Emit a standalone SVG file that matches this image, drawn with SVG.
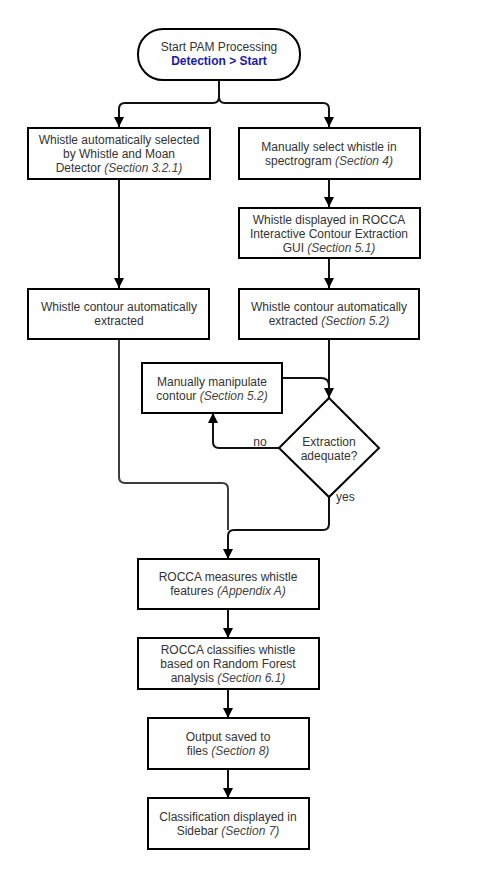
<svg xmlns="http://www.w3.org/2000/svg" width="485" height="869" viewBox="0 0 485 869">
<style>
text{font-family:"Liberation Sans",Arial,sans-serif;font-size:12px;fill:#333;text-anchor:middle}
.i{font-style:italic;fill:#444}
.b{font-weight:bold;fill:#1a1aa8}
.box{fill:#fff;stroke:#000;stroke-width:2}
.c{fill:none;stroke:#111;stroke-width:2}
.g{fill:none;stroke:#3c3c3c;stroke-width:2}
.l{text-anchor:start}
</style>
<defs>
<marker id="a" markerUnits="userSpaceOnUse" markerWidth="12" markerHeight="10" refX="10" refY="5" orient="auto">
<path d="M0,0 L10,5 L0,10 Z" fill="#000"/>
</marker>
</defs>
<rect width="485" height="869" fill="#fff"/>
<g id="connectors">
<path class="c" d="M219,80 V97 Q219,103 213,103 H125 Q119,103 119,109 V127" marker-end="url(#a)"/>
<path class="c" d="M219,80 V97 Q219,103 225,103 H323 Q329,103 329,109 V127" marker-end="url(#a)"/>
<path class="c" d="M119,179 V288" marker-end="url(#a)"/>
<path class="c" d="M329,179 V207" marker-end="url(#a)"/>
<path class="c" d="M329,258 V288" marker-end="url(#a)"/>
<path class="c" d="M329,339 V398" marker-end="url(#a)"/>
<path class="c" d="M282,378 H321 Q329,378 329,386 V392"/>
<path class="c" d="M279,448 H219 Q213,448 213,442 V413" marker-end="url(#a)"/>
<path class="c" d="M329,497 V524 Q329,530 323,530 H234 Q228,530 228,536 V559" marker-end="url(#a)"/>
<path class="g" d="M119,339 V477 Q119,483 125,483 H222 Q228,483 228,489 V530"/>
<path class="c" d="M228,609 V638" marker-end="url(#a)"/>
<path class="c" d="M228,689 V718" marker-end="url(#a)"/>
<path class="c" d="M228,769 V798" marker-end="url(#a)"/>
<text x="260" y="446">no</text>
<text class="l" x="336" y="501">yes</text>
</g>
<g id="start">
<rect class="box" x="138" y="29" width="162" height="51" rx="25" ry="25"/>
<text x="219" y="51">Start PAM Processing</text>
<text class="b" x="219" y="65">Detection &gt; Start</text>
</g>
<g id="auto-select">
<rect class="box" x="28" y="128" width="182" height="51"/>
<text x="119" y="144">Whistle automatically selected</text>
<text x="119" y="158">by Whistle and Moan</text>
<text x="119" y="172">Detector <tspan class="i">(Section 3.2.1)</tspan></text>
</g>
<g id="manual-select">
<rect class="box" x="239" y="128" width="181" height="51"/>
<text x="329" y="151">Manually select whistle in</text>
<text x="329" y="165">spectrogram  <tspan class="i">(Section 4)</tspan></text>
</g>
<g id="rocca-gui">
<rect class="box" x="239" y="208" width="181" height="50"/>
<text x="329" y="224">Whistle displayed in ROCCA</text>
<text x="329" y="238">Interactive Contour Extraction</text>
<text x="329" y="252">GUI  <tspan class="i">(Section 5.1)</tspan></text>
</g>
<g id="auto-extract-left">
<rect class="box" x="28" y="289" width="181" height="50"/>
<text x="119" y="311">Whistle contour automatically</text>
<text x="119" y="325">extracted</text>
</g>
<g id="auto-extract-right">
<rect class="box" x="239" y="289" width="180" height="50"/>
<text x="329" y="311">Whistle contour automatically</text>
<text x="329" y="325">extracted <tspan class="i">(Section 5.2)</tspan></text>
</g>
<g id="manual-manipulate">
<rect class="box" x="142" y="363" width="140" height="50"/>
<text x="212" y="386">Manually manipulate</text>
<text x="212" y="400">contour <tspan class="i">(Section 5.2)</tspan></text>
</g>
<g id="decision">
<polygon class="box" points="329,398 379,448 329,497 279,448"/>
<text x="329" y="446">Extraction</text>
<text x="329" y="460">adequate?</text>
</g>
<g id="measure">
<rect class="box" x="138" y="559" width="181" height="50"/>
<text x="228" y="581">ROCCA measures whistle</text>
<text x="228" y="595">features <tspan class="i">(Appendix A)</tspan></text>
</g>
<g id="classify">
<rect class="box" x="138" y="638" width="181" height="51"/>
<text x="228" y="654">ROCCA classifies whistle</text>
<text x="228" y="668">based on Random Forest</text>
<text x="228" y="682">analysis <tspan class="i">(Section 6.1)</tspan></text>
</g>
<g id="output">
<rect class="box" x="148" y="718" width="161" height="51"/>
<text x="228" y="741">Output saved to</text>
<text x="228" y="755">files <tspan class="i">(Section 8)</tspan></text>
</g>
<g id="sidebar">
<rect class="box" x="148" y="798" width="161" height="51"/>
<text x="228" y="821">Classification displayed in</text>
<text x="228" y="835">Sidebar <tspan class="i">(Section 7)</tspan></text>
</g>
</svg>
